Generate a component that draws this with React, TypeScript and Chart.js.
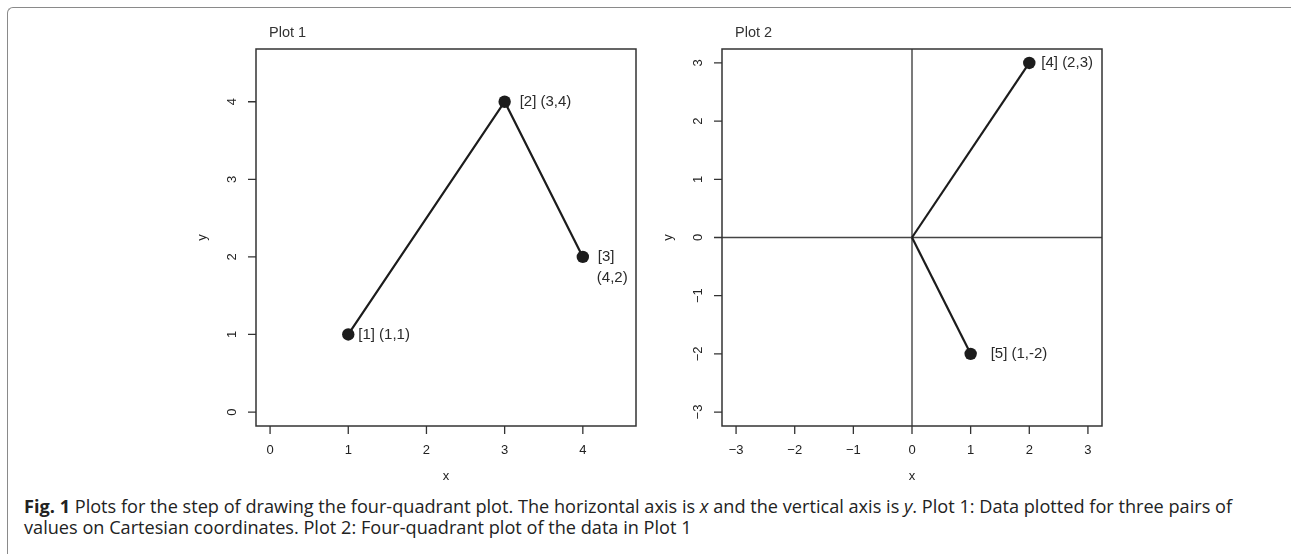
import React, { useEffect, useRef } from "react";
import { Chart, registerables } from "chart.js";

Chart.register(...registerables);

// ---------- data ----------
const plot1Title = "Plot 1";
const plot1X = [1, 3, 4];
const plot1Y = [1, 4, 2];
const plot1Labels: string[][] = [["[1] (1,1)"], ["[2] (3,4)"], ["[3]", "(4,2)"]];
const plot1Ticks = [0, 1, 2, 3, 4];
const plot1Lim = [0, 4.5];

const plot2Title = "Plot 2";
const plot2Origin = [0, 0];
const plot2X = [2, 1];
const plot2Y = [3, -2];
const plot2Labels: string[][] = [["[4] (2,3)"], ["[5] (1,-2)"]];
const plot2Ticks = [-3, -2, -1, 0, 1, 2, 3];
const plot2Lim = [-3, 3];

const axisTitleX = "x";
const axisTitleY = "y";

// ---------- style ----------
const FONT = "'Liberation Sans', Arial, sans-serif";
const INK = "#1c1c1c";
const AXIS = "#333";

const fmt = (v: number) => (v < 0 ? "\u2212" + Math.abs(v) : String(v));
const ext = (lim: number[]) => {
  const d = (lim[1] - lim[0]) * 0.04;
  return [lim[0] - d, lim[1] + d];
};

type PlotCfg = {
  title: string;
  ticks: number[];
  zeroLines: boolean;
  labels: { x: number; y: number; lines: string[]; dx: number }[];
};

function makePlugin(cfg: PlotCfg) {
  return {
    id: "rplot",
    beforeDatasetsDraw(chart: any) {
      const { ctx, chartArea: a, scales } = chart;
      const xs = scales.x, ys = scales.y;
      ctx.save();
      if (cfg.zeroLines) {
        ctx.strokeStyle = "#444";
        ctx.lineWidth = 1.4;
        const x0 = xs.getPixelForValue(0);
        const y0 = ys.getPixelForValue(0);
        ctx.beginPath();
        ctx.moveTo(x0, a.top);
        ctx.lineTo(x0, a.bottom);
        ctx.moveTo(a.left, y0);
        ctx.lineTo(a.right, y0);
        ctx.stroke();
      }
      ctx.restore();
    },
    afterDatasetsDraw(chart: any) {
      const { ctx, chartArea: a, scales } = chart;
      const xs = scales.x, ys = scales.y;
      ctx.save();
      // box
      ctx.strokeStyle = AXIS;
      ctx.lineWidth = 1.5;
      ctx.strokeRect(a.left, a.top, a.right - a.left, a.bottom - a.top);
      // ticks
      ctx.lineWidth = 1.3;
      ctx.beginPath();
      cfg.ticks.forEach((t) => {
        const px = xs.getPixelForValue(t);
        ctx.moveTo(px, a.bottom);
        ctx.lineTo(px, a.bottom + 8);
        const py = ys.getPixelForValue(t);
        ctx.moveTo(a.left, py);
        ctx.lineTo(a.left - 8, py);
      });
      ctx.stroke();
      ctx.fillStyle = "#222";
      ctx.font = `13px ${FONT}`;
      ctx.textAlign = "center";
      ctx.textBaseline = "middle";
      cfg.ticks.forEach((t) => {
        ctx.fillText(fmt(t), xs.getPixelForValue(t), a.bottom + 24);
        ctx.save();
        ctx.translate(a.left - 24, ys.getPixelForValue(t));
        ctx.rotate(-Math.PI / 2);
        ctx.fillText(fmt(t), 0, 0);
        ctx.restore();
      });
      // axis titles
      ctx.font = `13px ${FONT}`;
      ctx.fillText(axisTitleX, (a.left + a.right) / 2, a.bottom + 50);
      ctx.save();
      ctx.translate(a.left - 54, (a.top + a.bottom) / 2);
      ctx.rotate(-Math.PI / 2);
      ctx.fillText(axisTitleY, 0, 0);
      ctx.restore();
      // title
      ctx.font = `14.5px ${FONT}`;
      ctx.textAlign = "left";
      ctx.fillStyle = "#333";
      ctx.fillText(cfg.title, a.left + 13, a.top - 16);
      // point labels
      ctx.font = `15px ${FONT}`;
      ctx.fillStyle = "#2a2a2a";
      cfg.labels.forEach((l) => {
        const px = xs.getPixelForValue(l.x);
        const py = ys.getPixelForValue(l.y);
        l.lines.forEach((s, i) => {
          ctx.fillText(s, px + l.dx + (i > 0 ? -1 : 0), py + i * 21);
        });
      });
      ctx.restore();
    },
  };
}

function PlotCanvas(props: {
  left: number;
  top: number;
  width: number;
  height: number;
  padding: any;
  lim: number[];
  datasets: any[];
  cfg: PlotCfg;
}) {
  const ref = useRef<HTMLCanvasElement | null>(null);
  useEffect(() => {
    if (!ref.current) return;
    const r = ext(props.lim);
    const chart = new Chart(ref.current, {
      type: "scatter",
      data: { datasets: props.datasets },
      options: {
        animation: false,
        responsive: true,
        maintainAspectRatio: false,
        layout: { padding: props.padding },
        plugins: { legend: { display: false }, tooltip: { enabled: false } },
        events: [],
        scales: {
          x: { type: "linear", display: false, min: r[0], max: r[1] },
          y: { type: "linear", display: false, min: r[0], max: r[1] },
        },
      },
      plugins: [makePlugin(props.cfg)],
    } as any);
    return () => chart.destroy();
  }, []);
  return (
    <div
      style={{
        position: "absolute",
        left: props.left,
        top: props.top,
        width: props.width,
        height: props.height,
      }}
    >
      <canvas ref={ref} />
    </div>
  );
}

const lineStyle = {
  borderColor: INK,
  backgroundColor: INK,
  borderWidth: 2.2,
  showLine: true,
  pointBorderWidth: 0,
  pointHoverRadius: 0,
};

export default function App() {
  const ds1 = [
    {
      ...lineStyle,
      data: plot1X.map((x, i) => ({ x, y: plot1Y[i] })),
      pointRadius: 6.2,
    },
  ];
  const ds2 = plot2X.map((x, i) => ({
    ...lineStyle,
    data: [
      { x: plot2Origin[0], y: plot2Origin[1] },
      { x, y: plot2Y[i] },
    ],
    pointRadius: [0, 6.2],
  }));
  const cfg1: PlotCfg = {
    title: plot1Title,
    ticks: plot1Ticks,
    zeroLines: false,
    labels: plot1X.map((x, i) => ({
      x,
      y: plot1Y[i],
      lines: plot1Labels[i],
      dx: i === 0 ? 10 : 15,
    })),
  };
  const cfg2: PlotCfg = {
    title: plot2Title,
    ticks: plot2Ticks,
    zeroLines: true,
    labels: plot2X.map((x, i) => ({
      x,
      y: plot2Y[i],
      lines: plot2Labels[i],
      dx: i === 0 ? 12 : 20,
    })),
  };
  return (
    <div
      style={{
        position: "fixed",
        left: 0,
        top: 0,
        width: 1291,
        height: 554,
        overflow: "hidden",
        background: "#fff",
      }}
    >
      <div
        style={{
          position: "absolute",
          left: 7,
          top: 7,
          width: 1320,
          height: 600,
          borderTop: "1.6px solid #8a8a8a",
          borderLeft: "1.6px solid #8a8a8a",
          borderTopLeftRadius: 6,
        }}
      />
      <PlotCanvas
        left={190}
        top={10}
        width={460}
        height={470}
        padding={{ left: 66, right: 14, top: 39, bottom: 54 }}
        lim={plot1Lim}
        datasets={ds1}
        cfg={cfg1}
      />
      <PlotCanvas
        left={655}
        top={10}
        width={470}
        height={470}
        padding={{ left: 67, right: 23, top: 39, bottom: 54 }}
        lim={plot2Lim}
        datasets={ds2}
        cfg={cfg2}
      />
      <div
        style={{
          position: "absolute",
          left: 24,
          top: 496,
          width: 1265,
          fontFamily: "'Open Sans', 'Noto Sans', sans-serif",
          fontSize: 18.15,
          lineHeight: "21px",
          color: "#222",
          whiteSpace: "nowrap",
        }}
      >
        <b>Fig. 1</b> Plots for the step of drawing the four-quadrant plot. The horizontal axis is{" "}
        <i>x</i> and the vertical axis is <i>y</i>. Plot 1: Data plotted for three pairs of
        <br />
        values on Cartesian coordinates. Plot 2: Four-quadrant plot of the data in Plot 1
      </div>
    </div>
  );
}
